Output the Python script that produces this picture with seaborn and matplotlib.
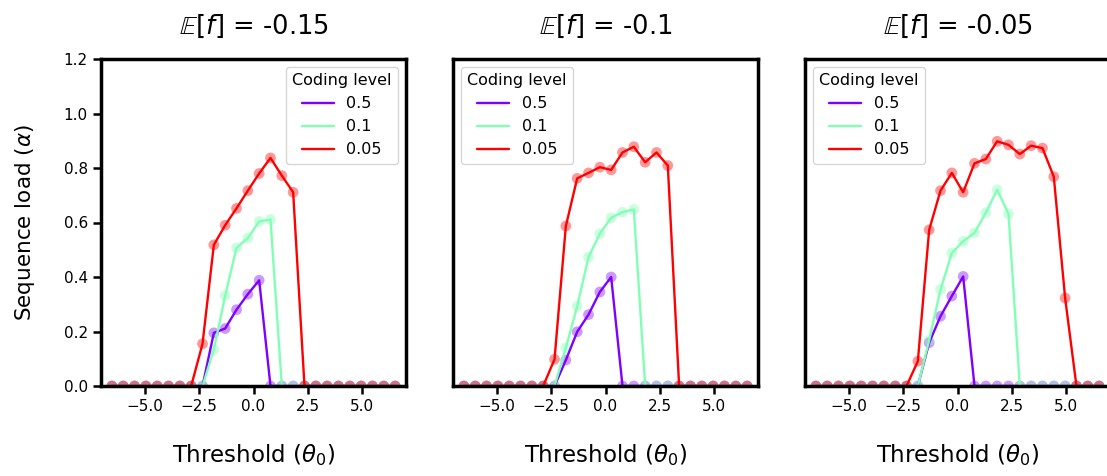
import numpy as np
import pandas as pd
import matplotlib
matplotlib.use("Agg")
import matplotlib.pyplot as plt
import seaborn as sns
from matplotlib import cm

# ---------------- data ----------------
theta = [-6.5, -5.98, -5.46, -4.94, -4.42, -3.9, -3.38, -2.86, -2.34, -1.82,
         -1.3, -0.78, -0.26, 0.26, 0.78, 1.3, 1.82, 2.34, 2.86, 3.38,
         3.9, 4.42, 4.94, 5.46, 5.98, 6.5]

coding_levels = ["0.5", "0.1", "0.05"]
mean_f = ["-0.15", "-0.1", "-0.05"]

# panel 1: E[f] = -0.15
p1_05 = [0, 0, 0, 0, 0, 0, 0, 0, 0, 0.195, 0.211, 0.28, 0.337, 0.388, 0,
         0, 0, 0, 0, 0, 0, 0, 0, 0, 0, 0]
p1_01 = [0, 0, 0, 0, 0, 0, 0, 0, 0, 0.134, 0.332, 0.507, 0.543, 0.604, 0.611,
         0, 0, 0, 0, 0, 0, 0, 0, 0, 0, 0]
p1_005 = [0, 0, 0, 0, 0, 0, 0, 0, 0.155, 0.518, 0.59, 0.652, 0.717, 0.78, 0.837,
          0.772, 0.711, 0, 0, 0, 0, 0, 0, 0, 0, 0]

# panel 2: E[f] = -0.1
p2_05 = [0, 0, 0, 0, 0, 0, 0, 0, 0, 0.095, 0.199, 0.262, 0.345, 0.40, 0,
         0, 0, 0, 0, 0, 0, 0, 0, 0, 0, 0]
p2_01 = [0, 0, 0, 0, 0, 0, 0, 0, 0, 0.14, 0.293, 0.473, 0.559, 0.617, 0.638,
         0.648, 0, 0, 0, 0, 0, 0, 0, 0, 0, 0]
p2_005 = [0, 0, 0, 0, 0, 0, 0, 0, 0.098, 0.587, 0.762, 0.782, 0.803, 0.793, 0.857,
          0.878, 0.821, 0.857, 0.809, 0, 0, 0, 0, 0, 0, 0]

# panel 3: E[f] = -0.05
p3_05 = [0, 0, 0, 0, 0, 0, 0, 0, 0, 0, 0.159, 0.256, 0.33, 0.402, 0,
         0, 0, 0, 0, 0, 0, 0, 0, 0, 0, 0]
p3_01 = [0, 0, 0, 0, 0, 0, 0, 0, 0, 0, 0.168, 0.354, 0.488, 0.531, 0.562,
         0.636, 0.72, 0.632, 0, 0, 0, 0, 0, 0, 0, 0]
p3_005 = [0, 0, 0, 0, 0, 0, 0, 0, 0, 0.091, 0.573, 0.717, 0.782, 0.711, 0.817,
          0.833, 0.898, 0.885, 0.851, 0.882, 0.873, 0.768, 0.323, 0, 0, 0]

panels = [[p1_05, p1_01, p1_005], [p2_05, p2_01, p2_005], [p3_05, p3_01, p3_005]]
legend_locs = ["upper right", "upper left", "upper left"]

xticks = [-5.0, -2.5, 0.0, 2.5, 5.0]
yticks = [0.0, 0.2, 0.4, 0.6, 0.8, 1.0, 1.2]

# ---------------- style ----------------
sns.set_style("ticks")
plt.rcParams["font.family"] = ["DejaVu Sans"]
plt.rcParams["mathtext.fontset"] = "dejavusans"
plt.rcParams["text.color"] = "black"
plt.rcParams["axes.labelcolor"] = "black"
plt.rcParams["xtick.color"] = "black"
plt.rcParams["ytick.color"] = "black"

colors = [cm.rainbow(v) for v in (0.0, 0.5, 1.0)]
palette = dict(zip(coding_levels, colors))

fig = plt.figure(figsize=(11.07, 4.76), dpi=100)
lefts = [101 / 1107, 453 / 1107, 805 / 1107]
w = 305 / 1107
b = (476 - 386) / 476
h = (386 - 59) / 476

for i, (vals, mf, loc) in enumerate(zip(panels, mean_f, legend_locs)):
    ax = fig.add_axes([lefts[i], b, w, h])
    rows = []
    for lvl, v in zip(coding_levels, vals):
        for t, y in zip(theta, v):
            rows.append({"theta": t, "load": y, "Coding level": lvl})
    df = pd.DataFrame(rows)

    sns.scatterplot(data=df, x="theta", y="load", hue="Coding level",
                    hue_order=coding_levels, palette=palette, s=60,
                    alpha=0.4, edgecolor="none", legend=False, ax=ax,
                    zorder=2)
    sns.lineplot(data=df, x="theta", y="load", hue="Coding level",
                 hue_order=coding_levels, palette=palette, linewidth=1.7,
                 ax=ax, zorder=3)

    ax.set_xlim(-7, 7)
    ax.set_ylim(0, 1.2)
    ax.set_xticks(xticks)
    ax.set_xticklabels([f"{t:.1f}".replace("-", "\u2212") for t in xticks])
    for sp in ax.spines.values():
        sp.set_visible(True)
        sp.set_linewidth(2.5)
        sp.set_color("black")
        sp.set_zorder(5)
    ax.tick_params(axis="both", direction="out", length=6, width=1.8,
                   labelsize=11, pad=3.5, color="black", labelcolor="black")
    ax.set_xlabel(r"Threshold ($\theta_0$)", fontsize=16.5, labelpad=20)
    if i == 0:
        ax.set_yticks(yticks)
        ax.set_yticklabels([f"{t:.1f}" for t in yticks])
        ax.set_ylabel(r"Sequence load ($\alpha$)", fontsize=15.5, labelpad=19)
    else:
        ax.set_yticks([])
        ax.set_ylabel("")
    ax.set_title(r"$\mathbb{E}[f]$ = " + mf, fontsize=18.5, pad=18)
    leg = ax.legend(title="Coding level", loc=loc, fontsize=11.5,
                    title_fontsize=11.5, frameon=True)
    leg.get_frame().set_edgecolor("#cccccc")

fig.savefig("out.png", dpi=100)
